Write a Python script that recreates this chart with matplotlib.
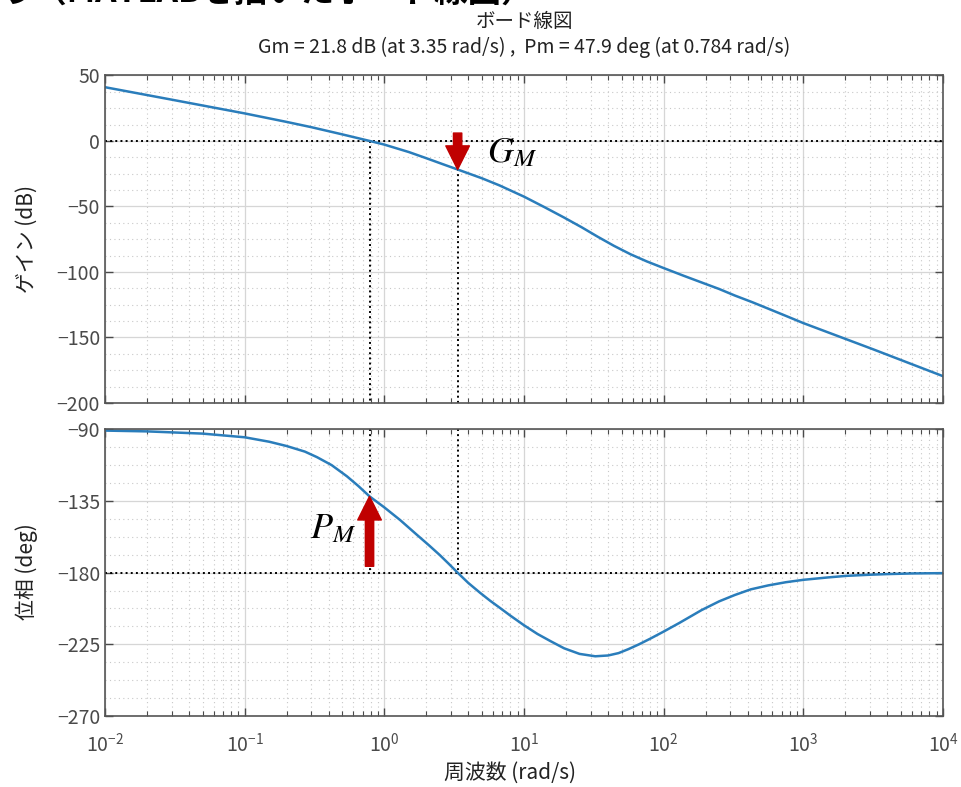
import matplotlib
matplotlib.use('Agg')
from matplotlib import pyplot as plt
from matplotlib.ticker import LogLocator, MultipleLocator, AutoMinorLocator, NullFormatter

plt.rcParams['font.family'] = ['Noto Sans CJK JP', 'DejaVu Sans']

# gain curve (rad/s, dB)
gain_w = [0.01, 0.03, 0.1, 0.2, 0.3, 0.5, 0.784, 1.0, 1.5, 2.0, 2.6, 3.35, 5.0, 6.7, 8.2, 10,
          14, 19.4, 26, 33.6, 44, 58, 76, 100, 140, 187, 250, 324, 430, 561, 750, 1000,
          3162, 10000]
gain_db = [41, 31.5, 21, 14.5, 10.5, 5.0, 0, -2.8, -8.5, -13.2, -17.6, -21.8, -28.5, -34, -38.3,
           -42.5, -50.5, -58.5, -66, -73, -80, -86.5, -92, -97, -103, -108, -113, -118, -123,
           -128, -133.5, -139, -159, -179.5]

# phase curve (rad/s, deg)
phase_w = [0.01, 0.02, 0.05, 0.1, 0.15, 0.2, 0.27, 0.33, 0.42, 0.54, 0.65, 0.784, 1.0, 1.3,
           1.7, 2.1, 2.5, 2.9, 3.35, 4.0, 4.83, 5.7, 6.7, 8.0, 10, 12.5, 15.5, 19.4, 25, 32.4,
           40, 47.6, 56, 66.6, 80, 100, 130, 187, 250, 324, 420, 561, 750, 1000, 1500, 2040,
           3000, 4000, 6000, 10000]
phase_deg = [-90.8, -91.3, -92.7, -95, -97.8, -100.5, -104, -107.5, -112.5, -119.5, -125.5,
             -132.1, -139, -147, -156, -163, -169, -174.5, -180, -186.5, -192.5, -197.5, -202,
             -207, -213, -218.5, -223, -227.5, -231, -232.5, -232, -230.5, -228, -225, -221.5,
             -217, -211.5, -203.5, -198, -194, -190.5, -188, -186, -184.5, -183, -182, -181.3,
             -180.9, -180.5, -180.3]

# margins
gm_db = 21.8
wg = 3.35      # phase crossover
pm_deg = 47.9
wc = 0.784     # gain crossover

line_color = '#2a7dbb'
arrow_color = '#c00000'
tick_color = '#4a4a4a'

fig = plt.figure(figsize=(9.62, 7.87), dpi=100)
ax1 = fig.add_axes([0.1091, 0.4879, 0.8711, 0.4163])
ax2 = fig.add_axes([0.1091, 0.0902, 0.8711, 0.3643])

for ax in (ax1, ax2):
    ax.set_xscale('log')
    ax.set_xlim(1e-2, 1e4)
    ax.xaxis.set_major_locator(LogLocator(base=10, numticks=10))
    ax.xaxis.set_minor_locator(LogLocator(base=10, subs=range(2, 10), numticks=10))
    ax.xaxis.set_minor_formatter(NullFormatter())
    ax.grid(True, which='major', color='#d6d6d6', lw=0.9, ls='-')
    ax.grid(True, which='minor', color='#c8c8c8', lw=0.8, ls=(0, (1, 3)))
    ax.tick_params(which='both', direction='in', top=True, right=True,
                   labelsize=14, colors=tick_color)
    ax.tick_params(which='major', length=6, width=1)
    ax.tick_params(which='minor', length=3.5, width=0.8)
    ax.tick_params(axis='x', pad=12)
    ax.yaxis.set_minor_locator(AutoMinorLocator(4))
    ax.tick_params(axis='y', which='minor', length=0)
    for s in ax.spines.values():
        s.set_color('#555555')
        s.set_linewidth(1.2)
    ax.set_axisbelow(True)

# gain plot
ax1.set_ylim(-200, 50)
ax1.yaxis.set_major_locator(MultipleLocator(50))
ax1.tick_params(axis='x', labelbottom=False)
ax1.axhline(0, color='k', ls=':', lw=1.4)
ax1.plot([wc, wc], [0, -200], 'k:', lw=1.4)
ax1.plot([wg, wg], [-gm_db, -200], 'k:', lw=1.4)
ax1.plot(gain_w, gain_db, color=line_color, lw=1.8)
ax1.annotate('', xy=(wg, -gm_db), xytext=(wg, 6),
             arrowprops=dict(arrowstyle='simple,head_length=17,head_width=17,tail_width=6',
                             mutation_scale=1, color=arrow_color, shrinkA=0, shrinkB=0))
ax1.text(5.4, -16, r'$G_M$', fontsize=26, math_fontfamily='stix', va='baseline')

# phase plot
ax2.set_ylim(-270, -90)
ax2.yaxis.set_major_locator(MultipleLocator(45))
ax2.axhline(-180, color='k', ls=':', lw=1.4)
ax2.plot([wc, wc], [-90, -180], 'k:', lw=1.4)
ax2.plot([wg, wg], [-90, -180], 'k:', lw=1.4)
ax2.plot(phase_w, phase_deg, color=line_color, lw=1.8)
ax2.annotate('', xy=(wc, -180 + pm_deg), xytext=(wc, -176),
             arrowprops=dict(arrowstyle='simple,head_length=17,head_width=17,tail_width=6',
                             mutation_scale=1, color=arrow_color, shrinkA=0, shrinkB=0))
ax2.text(0.293, -158.4, r'$P_M$', fontsize=26, math_fontfamily='stix', va='baseline')

# labels and titles
fig.text(0.028, 1 - 239 / 787, 'ゲイン (dB)', rotation=90, ha='center', va='center',
         fontsize=15, color='#222222')
fig.text(0.028, 1 - 572 / 787, '位相 (deg)', rotation=90, ha='center', va='center',
         fontsize=15, color='#222222')
fig.text(0.53, 1 - 773 / 787, '周波数 (rad/s)', ha='center', va='center',
         fontsize=15, color='#222222')
fig.text(0.545, 1 - 21 / 787, 'ボード線図', ha='center', va='center', fontsize=14, color='#222222')
fig.text(0.545, 1 - 47 / 787,
         'Gm = %.1f dB (at %.2f rad/s) ,  Pm = %.1f deg (at %.3f rad/s)' % (gm_db, wg, pm_deg, wc),
         ha='center', va='center', fontsize=14, color='#222222')

# header text cut at the top of the picture
fig.text(0.0, 1 - 2 / 787, 'う（MATLABを描いたボード線図）', ha='left', va='baseline',
         fontsize=24, fontweight='bold', color='black')

plt.savefig('out.png', dpi=100)
